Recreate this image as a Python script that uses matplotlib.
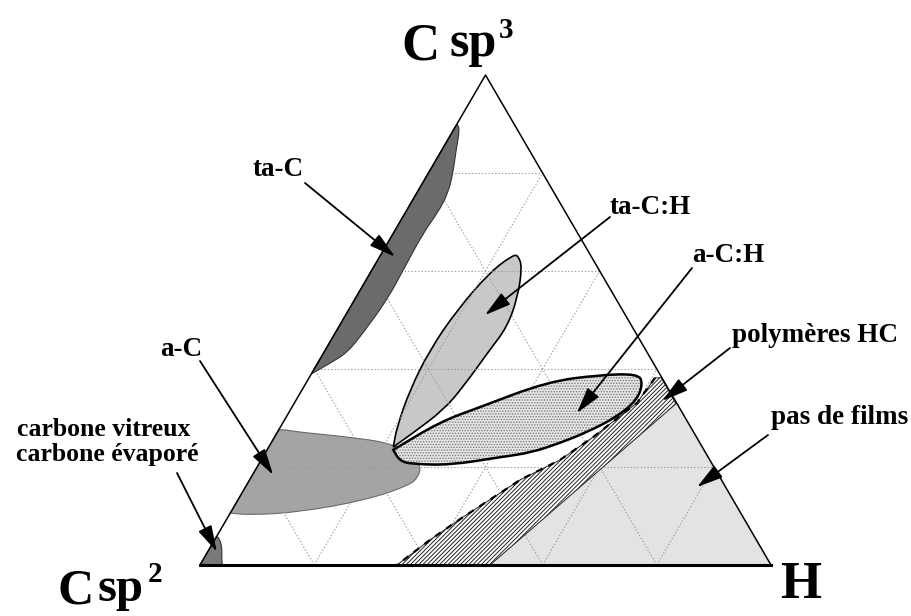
import numpy as np
import matplotlib.pyplot as plt
from matplotlib.path import Path
from matplotlib.patches import PathPatch, Polygon

plt.rcParams['font.family'] = ['Liberation Serif', 'DejaVu Serif']
plt.rcParams['font.weight'] = 'bold'
plt.rcParams['hatch.linewidth'] = 0.7

# region outlines, as (H %, C sp3 %) ; rest is C sp2
# repeated points mark sharp corners
ta_c = [(0, 39), (0, 39), (0, 90), (0, 90), (1, 89), (2.5, 84.7), (4.3, 80), (5.5, 75.9),
        (5.7, 72), (5.2, 67.8), (5.5, 60.2), (5.7, 54.1), (4.9, 47.4), (4.1, 43.3), (2.2, 41.2)]
ta_c_h = [(21.8, 24.1), (21.8, 24.1), (20.4, 28.2), (18.9, 35.7), (18.3, 43.9), (19.0, 52.0),
          (20.9, 59.8), (23.2, 63.3), (24.2, 63.1), (26.0, 60.8), (28.3, 54.7), (29.5, 48.6),
          (28.8, 43.9), (27.9, 36.3), (26.8, 31.6), (23.8, 26.9)]
a_c_h = [(22.1, 23.5), (22.1, 23.5), (27.4, 29.2), (32.9, 32.2), (42.1, 37.4), (50.7, 38.8),
         (57.2, 39.0), (59.0, 37.1), (59.7, 33.7), (57.9, 30.2), (54.2, 27.1), (50.6, 24.9),
         (46.4, 22.9), (41.5, 22.0), (33.6, 20.4), (27.0, 20.6), (24.4, 21.2)]
a_c = [(0, 27.6), (0, 27.6), (1.1, 27.6), (3.9, 27.1), (13.2, 26.1), (20.8, 24.9), (25.9, 22.5),
       (28.7, 20.0), (29.2, 18.0), (28.6, 16.3), (22.6, 13.3), (12.1, 10.8), (3.7, 10.2),
       (0, 10.6), (0, 10.6)]
vitreux = [(0, 0), (0, 0), (3.9, 0), (3.9, 0), (3.1, 1.4), (2.0, 3.7), (0.6, 5.5), (0, 5.8), (0, 5.8)]
polymeres = [(34.5, 0), (50.8, 0), (66.9, 32.9), (61.7, 38.2), (60.6, 38.2), (60.0, 33.1),
             (55.8, 26.1), (52.3, 21.4), (47.4, 17.4), (44.9, 14.3), (41.2, 9.8), (37.7, 5.1)]
pas_de_films = [(50.8, 0), (100, 0), (66.9, 32.9)]
grid_steps = [20, 40, 60, 80]

# annotation: label, label centre (px from top-left), arrow tail (px), arrow tip (H %, sp3 %)
labels = [('ta-C', (278, 170), (305, 183), (2.7, 62.9)),
          ('ta-C:H', (650, 207), (610, 217), (24.4, 51.0)),
          ('a-C:H', (728, 255), (692, 268), (50.5, 31.0)),
          ('polymères HC', (815, 336), (730, 348), (64.2, 33.5)),
          ('pas de films', (840, 418), (768, 435), (79.1, 15.9)),
          ('a-C', (181, 349), (200, 361), (3.6, 18.4)),
          ('carbone vitreux', (104, 430), None, None),
          ('carbone évaporé', (107, 455), (177, 473), (1.6, 2.7))]

W, H = 912, 616


def tern(pts):
    a = np.asarray(pts, float) / 100
    h, s = a[:, 0], a[:, 1]
    return np.column_stack([h + s / 2, s * np.sqrt(3) / 2])


def smooth(xy):
    # closed quadratic b-spline through midpoints of the outline
    mids = (xy + np.roll(xy, -1, axis=0)) / 2
    verts = [mids[-1]]
    codes = [Path.MOVETO]
    for i in range(len(xy)):
        verts += [xy[i], mids[i]]
        codes += [Path.CURVE3, Path.CURVE3]
    verts.append(mids[-1])
    codes.append(Path.CLOSEPOLY)
    return Path(verts, codes)


def px(x, y):
    return (x, H - y)


fig = plt.figure(figsize=(W / 100, H / 100), dpi=100)
ax = fig.add_axes([0, 0, 1, 1])
ax.set_xlim(-200 / 571, 712 / 571)
ax.set_ylim(-51 / 565.8, 565 / 565.8)
ax.axis('off')

# light regions
ax.add_patch(Polygon(tern(pas_de_films), closed=True, fc='#e3e3e3', ec='none', zorder=1))
ax.add_patch(PathPatch(smooth(tern(a_c)), fc='#a4a4a4', ec='#6a6a6a', lw=0.8, zorder=1))
ax.add_patch(PathPatch(smooth(tern(ta_c_h)), fc='#c8c8c8', ec='black', lw=1.2, zorder=1.5))

# grid
for g in grid_steps:
    for seg in ([(0, g), (100 - g, g)], [(g, 0), (g, 100 - g)], [(100 - g, 0), (0, 100 - g)]):
        xy = tern(seg)
        ax.plot(xy[:, 0], xy[:, 1], color='#9a9a9a', lw=0.8, ls=(0, (1.2, 1.8)), zorder=2)

# band of polymers
band = tern(polymeres)
ax.add_patch(Polygon(band, closed=True, fc='white', ec='#222222', lw=0.7,
                     hatch='////////', zorder=3))
ax.plot(band[4:, 0].tolist() + [band[0, 0]], band[4:, 1].tolist() + [band[0, 1]],
        color='black', lw=1.6, ls=(0, (3, 3)), zorder=3.2)

# a-C:H stippled
ach = smooth(tern(a_c_h))
ax.add_patch(PathPatch(ach, fc='#e6e6e6', ec='#7a7a7a', lw=0, hatch='......', zorder=3))
ax.add_patch(PathPatch(ach, fc='none', ec='black', lw=1.8, zorder=3.5))

# dark regions
ax.add_patch(PathPatch(smooth(tern(ta_c)), fc='#6b6b6b', ec='#333333', lw=0.8, zorder=3))
ax.add_patch(PathPatch(smooth(tern(vitreux)), fc='#7a7a7a', ec='#333333', lw=0.8, zorder=3))

# triangle outline
tri = tern([(0, 0), (100, 0), (0, 100), (0, 0)])
ax.plot(tri[:, 0], tri[:, 1], color='black', lw=1.1, zorder=4)
ax.plot(tri[:2, 0], tri[:2, 1], color='black', lw=2.2, zorder=4)

# labels and arrows
for text, pos, tail, tip in labels:
    fs = 18.5 if text.startswith('carbone') else 19.5
    fig.text(pos[0] / W, 1 - pos[1] / H, text, ha='center', va='center', fontsize=fs)
    if tail is not None:
        ax.annotate('', xy=tuple(tern([tip])[0]), xycoords='data',
                    xytext=px(*tail), textcoords='figure pixels',
                    arrowprops=dict(arrowstyle='-|>,head_length=0.8,head_width=0.22',
                                    color='black', lw=1.3, mutation_scale=20,
                                    shrinkA=0, shrinkB=0), zorder=6)

# corner labels
fig.text(401 / W, 1 - 60 / H, 'C', fontsize=38, ha='left', va='baseline')
fig.text(450 / W, 1 - 56 / H, 'sp', fontsize=36, ha='left', va='baseline')
fig.text(499 / W, 1 - 38 / H, '3', fontsize=21, ha='left', va='baseline')
fig.text(58 / W, 1 - 603 / H, 'C', fontsize=36, ha='left', va='baseline')
fig.text(98 / W, 1 - 601 / H, 'sp', fontsize=35, ha='left', va='baseline')
fig.text(148 / W, 1 - 582 / H, '2', fontsize=21, ha='left', va='baseline')
fig.text(780 / W, 1 - 598 / H, 'H', fontsize=38, ha='left', va='baseline')

fig.savefig('out.png', dpi=100)
